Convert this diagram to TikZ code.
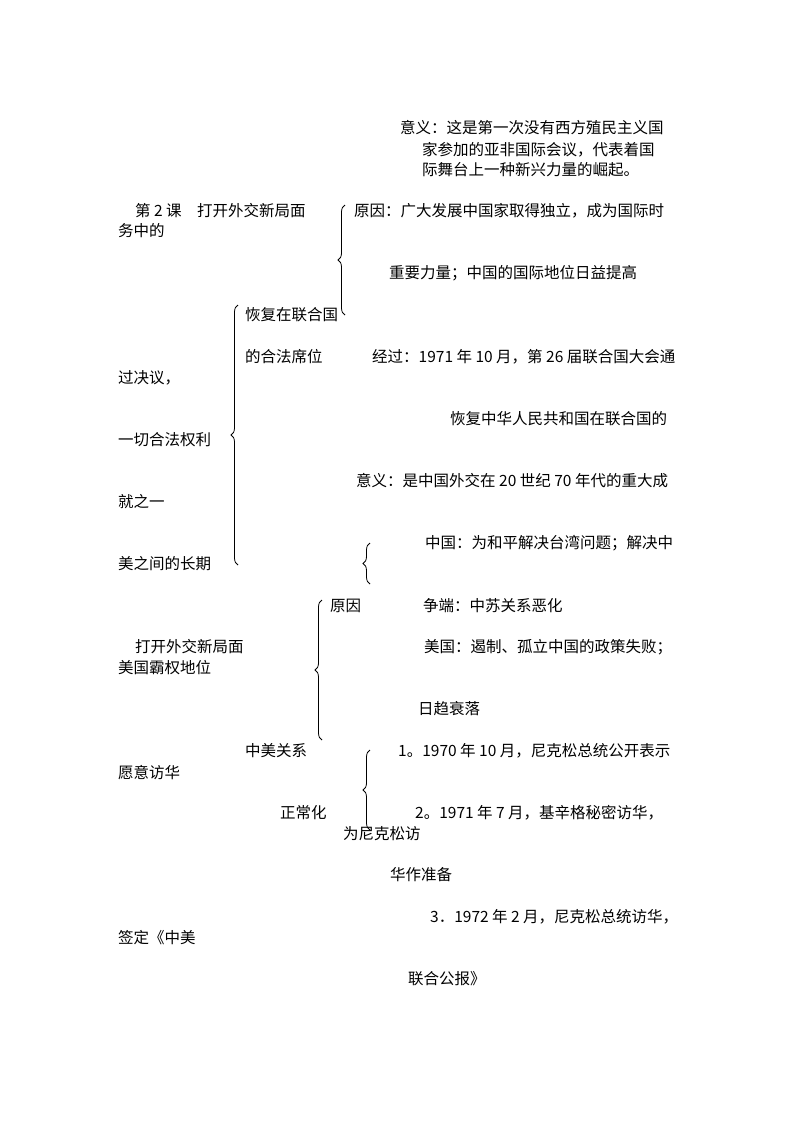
\documentclass[tikz,border=0pt]{standalone}
\usepackage{fontspec}
\setmainfont{Noto Sans CJK SC}
\usetikzlibrary{decorations.pathreplacing}
\begin{document}
\begin{tikzpicture}[x=1pt,y=-1pt,
  t/.style={anchor=west,inner sep=0pt,font=\fontsize{15.5}{17}\selectfont},
  br/.style={decorate,decoration={brace,amplitude=7pt},line width=0.8pt}]
\useasboundingbox (0,0) rectangle (793,1122);
\node[t] (a1) at (400,128) {意义：这是第一次没有西方殖民主义国};
\node[t] (a2) at (422,150) {家参加的亚非国际会议，代表着国};
\node[t] (a3) at (422,170) {际舞台上一种新兴力量的崛起。};
\node[t] (b1) at (135,211) {第 2 课\quad 打开外交新局面};
\node[t] (b2) at (118,231) {务中的};
\node[t] (c1) at (354,211) {原因：广大发展中国家取得独立，成为国际时};
\node[t] (c2) at (389,273) {重要力量；中国的国际地位日益提高};
\node[t] (d1) at (245,315) {恢复在联合国};
\node[t] (d2) at (245,357) {的合法席位};
\node[t] (e1) at (372,357) {经过：1971 年 10 月，第 26 届联合国大会通};
\node[t] (e2) at (118,378) {过决议，};
\node[t] (e3) at (450,419) {恢复中华人民共和国在联合国的};
\node[t] (e4) at (118,440) {一切合法权利};
\node[t] (f1) at (356,481) {意义：是中国外交在 20 世纪 70 年代的重大成};
\node[t] (f2) at (118,502) {就之一};
\node[t] (g1) at (425,543) {中国：为和平解决台湾问题；解决中};
\node[t] (g2) at (118,564) {美之间的长期};
\node[t] (h1) at (330,606) {原因};
\node[t] (h2) at (423,606) {争端：中苏关系恶化};
\node[t] (i1) at (135,647) {打开外交新局面};
\node[t] (i2) at (424,647) {美国：遏制、孤立中国的政策失败；};
\node[t] (i3) at (118,668) {美国霸权地位};
\node[t] (i4) at (418,709) {日趋衰落};
\node[t] (j1) at (245,751) {中美关系};
\node[t] (j2) at (398,751) {1。1970 年 10 月，尼克松总统公开表示};
\node[t] (j3) at (118,773) {愿意访华};
\node[t] (k1) at (280,813) {正常化};
\node[t] (k2) at (415,813) {2。1971 年 7 月，基辛格秘密访华，};
\node[t] (k3) at (343,834) {为尼克松访};
\node[t] (k4) at (390,875) {华作准备};
\node[t] (l1) at (430,917) {3．1972 年 2 月，尼克松总统访华，};
\node[t] (l2) at (118,938) {签定《中美};
\node[t] (l3) at (408,979) {联合公报》};
\draw[br] (345,315) -- (345,205);
\draw[br] (238,565) -- (238,305);
\draw[br] (370,584) -- (370,543);
\draw[br] (322,740) -- (322,600);
\draw[br] (370,830) -- (370,750);
\end{tikzpicture}
\end{document}
